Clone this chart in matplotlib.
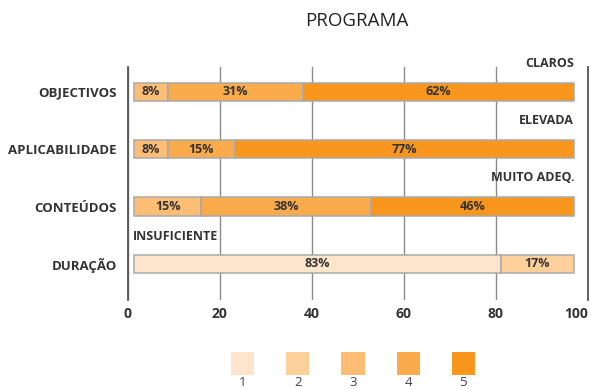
import numpy as np
import matplotlib.pyplot as plt

plt.rcParams['font.family'] = ['Open Sans', 'DejaVu Sans']

# answers per level 1..5, in percent (13 and 6 respondents)
categories = ["OBJECTIVOS", "APLICABILIDADE", "CONTEÚDOS", "DURAÇÃO"]
levels = ["1", "2", "3", "4", "5"]
objectivos = [0, 0, 7.7, 30.8, 61.5]
aplicabilidade = [0, 0, 7.7, 15.4, 76.9]
conteudos = [0, 0, 15.4, 38.5, 46.1]
duracao = [83.3, 16.7, 0, 0, 0]
series = [objectivos, aplicabilidade, conteudos, duracao]

notes = ["CLAROS", "ELEVADA", "MUITO ADEQ.", "INSUFICIENTE"]
colors = ["#fee5cb", "#fdd09c", "#fdbd75", "#fbab4b", "#f8961e"]
txt = "#333333"
wt = "bold"

fig = plt.figure(figsize=(5.91, 3.89), dpi=100)
ax = fig.add_axes([0.216, 0.229, 0.779, 0.599])

start = 1.3     # bars are drawn slightly inset from 0 in the original
scale = 0.957   # and a bit shorter than the axis
for i, vals in enumerate(series):
    left = start
    for k, v in enumerate(vals):
        if v == 0:
            continue
        w = v * scale
        ax.barh(i, w, left=left, height=0.315, color=colors[k],
                edgecolor="#a9a9a9", linewidth=1.1, zorder=3)
        ax.text(left + w / 2, i, f"{v:.0f}%", ha="center", va="center",
                fontsize=9, fontweight=wt, color=txt, zorder=4)
        left += w

# right aligned notes above first three rows, left aligned on the last
for i, note in enumerate(notes):
    if i < 3:
        ax.text(97.0, i - 0.5, note, ha="right", va="center", fontsize=9,
                fontweight=wt, color=txt, clip_on=False)
    else:
        ax.text(1.1, i - 0.48, note, ha="left", va="center", fontsize=9,
                fontweight=wt, color=txt, clip_on=False)

ax.set_xlim(0, 100)
ax.set_ylim(3.63, -0.436)
ax.set_yticks(range(len(categories)))
ax.set_yticklabels(categories)
ax.set_xticks(np.arange(0, 101, 20))
ax.tick_params(length=0, labelsize=9.5, labelcolor=txt)
ax.tick_params(axis="y", pad=8)
ax.tick_params(axis="x", pad=5, labelsize=10)
for lab in ax.get_xticklabels() + ax.get_yticklabels():
    lab.set_fontweight(wt)
last = ax.get_xticklabels()[-1]
last.set_horizontalalignment("right")
last.set_x(100.5)

ax.grid(axis="x", color="#8a8a8a", linewidth=1.0, zorder=0)
for s in ["top", "bottom"]:
    ax.spines[s].set_visible(False)
for s in ["left", "right"]:
    ax.spines[s].set_color("#555555")
    ax.spines[s].set_linewidth(1.3)

fig.text(0.603, 0.946, "PROGRAMA", ha="center", va="center", fontsize=13.5,
         color="#222222")

# legend: five squares with numbers below
lg = fig.add_axes([215 / 591, 14 / 389, 276 / 591, 23 / 389])
lg.bar(range(len(levels)), 1, width=0.42, color=colors)
lg.set_xlim(-0.5, 4.5)
lg.set_ylim(0, 1)
lg.set_xticks(range(len(levels)))
lg.set_xticklabels(levels)
lg.set_yticks([])
lg.tick_params(length=0, pad=1, labelsize=9.5, labelcolor="#444444")
for s in lg.spines.values():
    s.set_visible(False)

fig.savefig("out.png", dpi=100)
